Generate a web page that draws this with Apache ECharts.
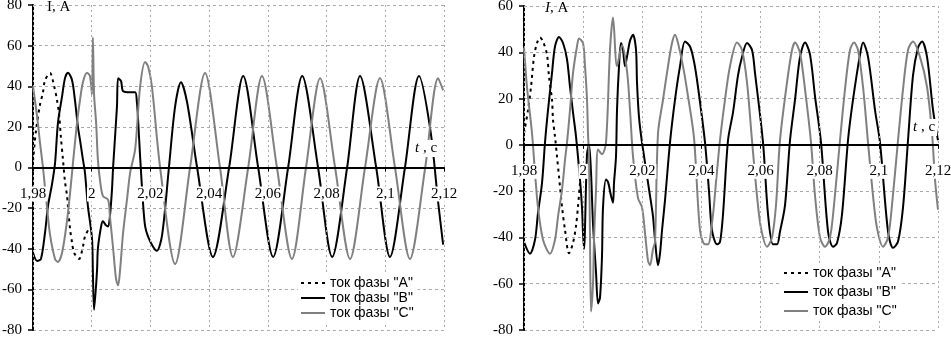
<!DOCTYPE html>
<html>
<head>
<meta charset="utf-8">
<script src="https://cdn.jsdelivr.net/npm/echarts@6/dist/echarts.min.js"></script>
<style>
  html, body { margin: 0; padding: 0; background: #fff; }
  #chart { width: 951px; height: 337px; }
</style>
</head>
<body>
<div id="chart"></div>
<script>
// названия фаз (легенда)
var phaseNames = ['ток фазы "A"', 'ток фазы "B"', 'ток фазы "C"'];

// левый график: [t, c ; I, A]
var leftA = [[1.98, 3], [1.9810, 18], [1.9824, 31], [1.9834, 37], [1.9841, 43], [1.9858, 46.5], [1.9872, 40],
  [1.9882, 33], [1.9889, 26], [1.9895, 15], [1.9902, 4], [1.9909, -7], [1.9916, -14], [1.9919, -19],
  [1.9926, -30], [1.9933, -37], [1.9940, -42], [1.9957, -45], [1.9970, -39], [1.9977, -34], [1.9991, -30]];

var leftB = [[1.98, -42], [1.9814, -46], [1.9827, -45], [1.9841, -32], [1.9851, -19], [1.9865, -8], [1.9875, 2],
  [1.9885, 22], [1.9899, 35], [1.9909, 44], [1.9919, 46.7], [1.9933, 43], [1.9943, 33], [1.9953, 20],
  [1.9960, 13.7], [1.9970, 4], [1.9977, -2.5], [1.9987, -19], [2.0001, -35], [2.0004, -51.5], [2.0008, -70],
  [2.0018, -51], [2.0021, -40], [2.0032, -29], [2.0038, -26.5], [2.0049, -28.5], [2.0056, -29], [2.0062, -24],
  [2.0069, -11], [2.0073, 0.5], [2.0086, 30], [2.0090, 44], [2.0100, 42.5], [2.0107, 37.5], [2.0131, 37],
  [2.0148, 37], [2.0154, 32], [2.0158, 23.5], [2.0165, 5], [2.0175, -18], [2.0182, -29], [2.0192, -34],
  [2.0209, -39], [2.0222, -41], [2.0240, -33], [2.0263, 0], [2.0284, 30], [2.0304, 42], [2.0325, 32],
  [2.0359, 0], [2.0413, -44], [2.0468, 0], [2.0516, 45], [2.0567, 0], [2.0618, -44], [2.0669, 0],
  [2.0717, 45], [2.0771, 0], [2.0819, -44], [2.0870, 0], [2.0914, 45], [2.0969, 0], [2.1016, -44],
  [2.1067, 0], [2.1115, 45], [2.1153, 19], [2.1180, -17], [2.1197, -38]];

var leftC = [[1.98, 40], [1.9814, 25], [1.9824, 12], [1.9834, 0], [1.9848, -20], [1.9858, -33], [1.9875, -45],
  [1.9885, -46.5], [1.9899, -42], [1.9916, -26], [1.9926, -13], [1.9936, 2], [1.9950, 22], [1.9960, 33],
  [1.9970, 42], [1.9984, 46.7], [1.9994, 45], [2.0001, 36], [2.0004, 64], [2.0008, 36], [2.0015, 22],
  [2.0021, 4], [2.0028, -6], [2.0038, -14], [2.0056, -16], [2.0062, -24], [2.0073, -40], [2.0083, -55],
  [2.0090, -58], [2.0096, -51.5], [2.0107, -32], [2.0120, -16], [2.0131, -2.5], [2.0148, 9], [2.0165, 40],
  [2.0182, 52], [2.0192, 49.7], [2.0205, 40], [2.0233, 0], [2.0284, -47.5], [2.0335, 0], [2.0386, 46.5],
  [2.0437, 0], [2.0481, -44], [2.0533, 0], [2.0580, 45], [2.0631, 0], [2.0682, -45], [2.0730, 0],
  [2.0778, 44], [2.0829, 0], [2.0880, -45], [2.0931, 0], [2.0982, 44], [2.1033, 0], [2.1084, -45],
  [2.1136, 0], [2.1180, 44], [2.1197, 38]];

// правый график
var rightA = [[1.98, 5], [1.98135, 15], [1.98237, 25], [1.98338, 38], [1.98440, 44], [1.98541, 46.4],
  [1.98643, 44.7], [1.98778, 39], [1.98845, 29.5], [1.98947, 19.5], [1.98981, 10.8], [1.99048, 3.6],
  [1.99116, -5], [1.99184, -13.7], [1.99285, -26.7], [1.99387, -36.8], [1.99522, -46.8], [1.99657, -42.4],
  [1.99759, -35], [1.99826, -26.7], [1.99894, -16.5]];

var rightB = [[1.98, -42], [1.98203, -47], [1.98372, -41], [1.98473, -29.5], [1.98609, -16.5], [1.98710, 1],
  [1.98812, 15], [1.98947, 31], [1.99048, 42.5], [1.99184, 46.6], [1.99319, 44], [1.99454, 37], [1.99556, 25],
  [1.99657, 14], [1.99759, 3.6], [1.99894, -15], [1.99961, -27], [1.99995, -38], [2.00029, -45],
  [2.00131, -4], [2.00198, 0], [2.00266, -12], [2.00333, -34], [2.00435, -55], [2.00503, -68.5],
  [2.00570, -66], [2.00638, -48], [2.00672, -27], [2.00773, -15], [2.00841, -16], [2.00942, -22],
  [2.01010, -25], [2.01044, -16.5], [2.01111, -5], [2.01145, 15], [2.01213, 34], [2.01280, 44],
  [2.01348, 41], [2.01416, 34], [2.01483, 38], [2.01585, 45], [2.01686, 47.6], [2.01788, 41],
  [2.01821, 27], [2.01889, 12], [2.01991, 1], [2.02261, -22], [2.02363, -31], [2.02430, -41],
  [2.02532, -52], [2.02599, -47], [2.02667, -37], [2.02768, -24], [2.02937, 1], [2.03107, 19.5],
  [2.03276, 34], [2.03445, 44.7], [2.03614, 42.5], [2.03749, 36], [2.03884, 25], [2.04121, 1],
  [2.04256, -20], [2.04358, -37], [2.04527, -43], [2.04628, -42], [2.04730, -30], [2.04899, 2],
  [2.05068, 14], [2.05237, 30], [2.05372, 38], [2.05541, 44], [2.05710, 41], [2.05812, 31], [2.06083, 1],
  [2.06252, -30], [2.06421, -43], [2.06556, -43], [2.06657, -37.5], [2.06827, -26], [2.06996, 2],
  [2.07165, 19.5], [2.07334, 38], [2.07503, 44.2], [2.07672, 39], [2.07841, 21], [2.08044, 1],
  [2.08281, -37.5], [2.08450, -44], [2.08585, -42.4], [2.08754, -30], [2.08957, 2], [2.09126, 19.5],
  [2.09363, 39], [2.09465, 44.2], [2.09634, 38], [2.09870, 15], [2.10039, 1], [2.10310, -37.5],
  [2.10479, -44.5], [2.10648, -41.8], [2.10817, -27], [2.10986, 2], [2.11155, 30], [2.11324, 42],
  [2.11460, 44.7], [2.11629, 38], [2.11832, 15], [2.12, 2]];

var rightC = [[1.98, 42], [1.98101, 25], [1.98271, 5], [1.98372, -12], [1.98473, -27], [1.98643, -41],
  [1.98879, -47], [1.99048, -41], [1.99150, -31], [1.99285, -19.5], [1.99387, -6.5], [1.99454, 1],
  [1.99556, 15], [1.99657, 31], [1.99792, 42.5], [1.99860, 46], [1.99995, 44], [2.00063, 34],
  [2.00131, 19.5], [2.00164, 5], [2.00198, -5], [2.00232, -40], [2.00266, -72], [2.00333, -60],
  [2.00367, -41], [2.00435, -19.5], [2.00503, -2], [2.00638, -4], [2.00773, 1], [2.00908, 41],
  [2.01010, 55], [2.01145, 34], [2.01314, 43], [2.01483, 32], [2.01585, 15], [2.01686, -5],
  [2.01855, -23], [2.01991, -27], [2.02092, -38], [2.02193, -50], [2.02261, -52], [2.02363, -45],
  [2.02430, -42], [2.02532, 5], [2.02701, 19.5], [2.02870, 34], [2.03005, 44], [2.03107, 47.6],
  [2.03208, 44], [2.03377, 34], [2.03546, 21], [2.03749, 3], [2.03952, -37], [2.04121, -43],
  [2.04223, -43], [2.04392, -30], [2.04493, -16], [2.04628, 2], [2.04797, 19.5], [2.04966, 34],
  [2.05203, 44.2], [2.05372, 41], [2.05541, 27], [2.05710, 2], [2.05879, -22], [2.06015, -36],
  [2.06218, -44], [2.06387, -40], [2.06522, -26], [2.06657, 2], [2.06894, 27], [2.07063, 41],
  [2.07165, 44.2], [2.07334, 39.6], [2.07503, 24], [2.07706, 1], [2.07841, -22], [2.08010, -40],
  [2.08179, -44], [2.08348, -40], [2.08483, -26], [2.08686, 2], [2.08855, 24], [2.09024, 41],
  [2.09160, 44.2], [2.09295, 41], [2.09465, 25], [2.09634, 1], [2.09803, -22], [2.09938, -36],
  [2.10141, -44], [2.10310, -40], [2.10445, -26], [2.10648, 2], [2.10817, 24], [2.10986, 41],
  [2.11155, 44.7], [2.11392, 38], [2.11629, 25], [2.11798, 5], [2.11899, -15], [2.12, -28]];

// оси
var tMin = 1.98, tMax = 2.12, tStep = 0.02;
var leftIMin = -80, leftIMax = 80, rightIMin = -80, rightIMax = 60, iStep = 20;

var serif = '"Liberation Serif", "DejaVu Serif", serif';
var sans = '"Liberation Sans", Arial, sans-serif';

var grids = [
    { left: 33, top: 5, width: 411, height: 325, outerBoundsMode: 'none' },
    { left: 524, top: 6, width: 414, height: 324, outerBoundsMode: 'none' }
];

function tLabel (v) {
    return String(+v.toFixed(2)).replace('.', ',');
}

// ось t рисуется на уровне I = 0 (сдвиг от нижнего края сетки)
function xAxisOpt (grid, iMin, iMax) {
    var zeroOffset = grids[grid].height * (0 - iMin) / (iMax - iMin);
    return {
        gridIndex: grid,
        type: 'value',
        position: 'bottom',
        offset: -zeroOffset,
        min: tMin,
        max: tMax,
        interval: tStep,
        z: 3,
        axisLine: { onZero: false, lineStyle: { color: '#000', width: 2 } },
        axisTick: { show: true, length: 4, lineStyle: { color: '#000', width: 1 } },
        axisLabel: {
            formatter: tLabel,
            fontFamily: serif,
            fontSize: 15,
            color: '#000',
            margin: 19,
            backgroundColor: '#fff',
            padding: [0, 1]
        },
        splitLine: { show: true, lineStyle: { color: '#aaa', type: [2, 3], width: 1 } }
    };
}

function yAxisOpt (grid, min, max) {
    return {
        gridIndex: grid,
        type: 'value',
        min: min,
        max: max,
        interval: iStep,
        z: 1,
        axisLine: { show: true, onZero: false, lineStyle: { color: '#000', width: 2 } },
        axisTick: { show: true, length: 5, lineStyle: { color: '#000', width: 1.5 } },
        axisLabel: { fontFamily: serif, fontSize: 15, color: '#000', margin: 11 },
        splitLine: { show: true, lineStyle: { color: '#aaa', type: [3, 3], width: 1 } }
    };
}

function seriesOpt (name, data, idx, color, dash) {
    return {
        name: name,
        type: 'line',
        xAxisIndex: idx,
        yAxisIndex: idx,
        data: data,
        symbol: 'none',
        showSymbol: false,
        smooth: 0.3,
        z: 2,
        lineStyle: { color: color, width: 2, type: dash || 'solid' },
        itemStyle: { color: color }
    };
}

function legendOpt (left, top, gap) {
    return {
        orient: 'vertical',
        left: left,
        top: top,
        data: phaseNames,
        itemWidth: 24,
        itemHeight: 14,
        itemGap: gap,
        padding: [2, 4, 2, 2],
        backgroundColor: '#fff',
        selectedMode: false,
        itemStyle: { opacity: 0 },
        textStyle: { fontFamily: sans, fontSize: 14, color: '#000' }
    };
}

var chart = echarts.init(document.getElementById('chart'));
chart.setOption({
    animation: false,
    backgroundColor: '#fff',
    grid: grids,
    xAxis: [xAxisOpt(0, leftIMin, leftIMax), xAxisOpt(1, rightIMin, rightIMax)],
    yAxis: [yAxisOpt(0, leftIMin, leftIMax), yAxisOpt(1, rightIMin, rightIMax)],
    legend: [legendOpt(298, 274, 1), legendOpt(781, 264, 5)],
    graphic: [
        { type: 'text', left: 47, top: 0, z: 10, style: { text: 'I, A', font: '15px ' + serif, fill: '#000' } },
        {
            type: 'text', left: 545, top: 1, z: 10,
            style: {
                text: '{i|I}, A', font: '15px ' + serif, fill: '#000',
                rich: { i: { fontStyle: 'italic', font: 'italic 15px ' + serif } }
            }
        },
        {
            type: 'text', left: 413, top: 140, z: 10,
            style: {
                text: '{i|t} , c', font: '15px ' + serif, fill: '#000', backgroundColor: '#fff', padding: [1, 2],
                rich: { i: { fontStyle: 'italic', font: 'italic 15px ' + serif } }
            }
        },
        {
            type: 'text', left: 911, top: 119, z: 10,
            style: {
                text: '{i|t} , c', font: '15px ' + serif, fill: '#000', backgroundColor: '#fff', padding: [1, 2],
                rich: { i: { fontStyle: 'italic', font: 'italic 15px ' + serif } }
            }
        }
    ],
    series: [
        seriesOpt(phaseNames[0], leftA, 0, '#000', [3, 4]),
        seriesOpt(phaseNames[1], leftB, 0, '#000'),
        seriesOpt(phaseNames[2], leftC, 0, '#808080'),
        seriesOpt(phaseNames[0], rightA, 1, '#000', [3, 4]),
        seriesOpt(phaseNames[1], rightB, 1, '#000'),
        seriesOpt(phaseNames[2], rightC, 1, '#808080')
    ]
});
</script>
</body>
</html>
